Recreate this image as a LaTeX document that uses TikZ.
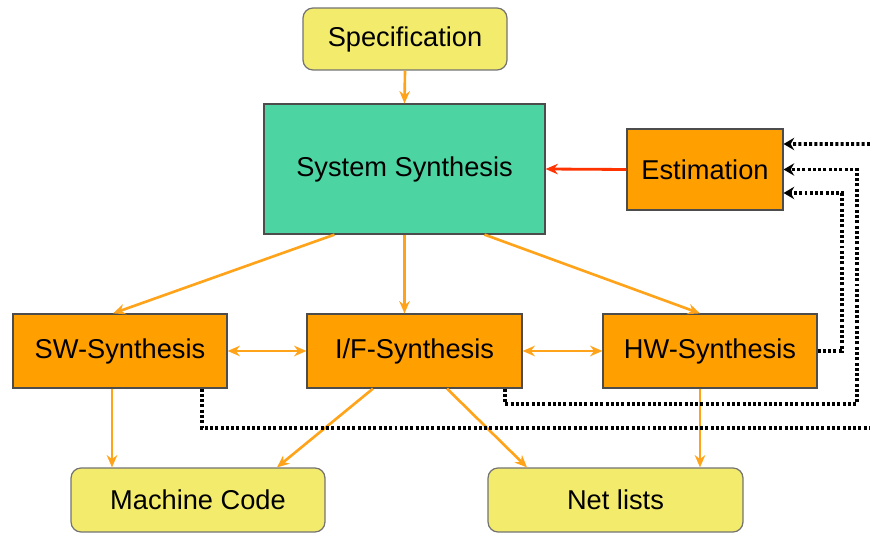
\documentclass[tikz,border=0pt]{standalone}
\usepackage{fontspec}
\setmainfont{Liberation Sans}
\usetikzlibrary{arrows.meta}
\definecolor{boxorange}{HTML}{FF9F00}
\definecolor{boxteal}{HTML}{4DD4A3}
\definecolor{boxyellow}{HTML}{F3EB6B}
\definecolor{arroworange}{HTML}{FFA31A}
\definecolor{arrowred}{HTML}{FF3300}
\tikzset{
  box/.style={draw=black!70,line width=0.7pt,inner sep=0pt,align=center,
    font=\fontsize{15.5}{18}\selectfont},
  stepbox/.style={box,fill=boxorange,minimum width=4.28cm,minimum height=1.48cm},
  endbox/.style={box,fill=boxyellow,draw=black!55,rounded corners=0.2cm},
  flow/.style={arroworange,line width=1.5pt,-{Stealth[length=7pt,width=6pt]}},
  fb/.style={black,line width=2.2pt,dash pattern=on 1.7pt off 1.3pt,
    -{Stealth[length=6pt,width=7pt]}}
}
\begin{document}
\begin{tikzpicture}[x=0.02cm,y=-0.02cm]
        \useasboundingbox (0,0) rectangle (870,533);
        %TOP
        \node[endbox,minimum width=4.08cm,minimum height=1.24cm] (spec) at (405,39) {Specification};
        \node[box,fill=boxteal,minimum width=5.62cm,minimum height=2.6cm] (sys) at (404.5,169) {System Synthesis};
        \node[box,fill=boxorange,minimum width=3.12cm,minimum height=1.62cm] (est) at (705,169.5) {Estimation};
        %MIDDLE ROW
        \node[stepbox] (sw) at (120,351) {SW-Synthesis};
        \node[stepbox,minimum width=4.3cm] (if) at (414.5,351) {I/F-Synthesis};
        \node[stepbox] (hw) at (710,351) {HW-Synthesis};
        %BOTTOM ROW
        \node[endbox,minimum width=5.08cm,minimum height=1.28cm] (mc) at (198,500) {Machine Code};
        \node[endbox,minimum width=5.1cm,minimum height=1.28cm] (net) at (615.5,500) {Net lists};
        \coordinate (swout) at (870,428);
        \coordinate (estin) at (870,144);

        %FLOW
        \draw[flow] (spec.south) -- (sys.north);
        \draw[flow] ([xshift=-1.4cm]sys.south) -- ([xshift=-0.14cm]sw.north);
        \draw[flow] (sys.south) -- (sys.south |- if.north);
        \draw[flow] ([xshift=1.6cm]sys.south) -- ([xshift=-0.2cm]hw.north);
        \draw[arrowred,line width=1.6pt,-{Stealth[length=7pt,width=6pt]}] (est.west) -- (sys.east);
        \draw[flow,{Stealth[length=7pt,width=6pt]}-{Stealth[length=7pt,width=6pt]}] (sw.east) -- (if.west);
        \draw[flow,{Stealth[length=7pt,width=6pt]}-{Stealth[length=7pt,width=6pt]}] (if.east) -- (hw.west);
        \draw[flow] ([xshift=-0.16cm]sw.south) -- ([xshift=-0.16cm]sw.south |- mc.north);
        \draw[flow] ([xshift=-0.83cm]if.south) -- ([xshift=1.58cm]mc.north);
        \draw[flow] ([xshift=0.65cm]if.south) -- ([xshift=-1.77cm]net.north);
        \draw[flow] ([xshift=-0.2cm]hw.south) -- ([xshift=-0.2cm]hw.south |- net.north);

        %FEEDBACK
        \draw[fb] (hw.east) -- ++(24,0) |- ([yshift=-0.47cm]est.east);
        \draw[fb] ([xshift=1.81cm]if.south) |- (857,404) |- (est.east);
        \draw[fb,-] ([xshift=1.64cm]sw.south) |- (swout);
        \draw[fb] (estin) -- ([yshift=0.51cm]est.east);
\end{tikzpicture}
\end{document}
